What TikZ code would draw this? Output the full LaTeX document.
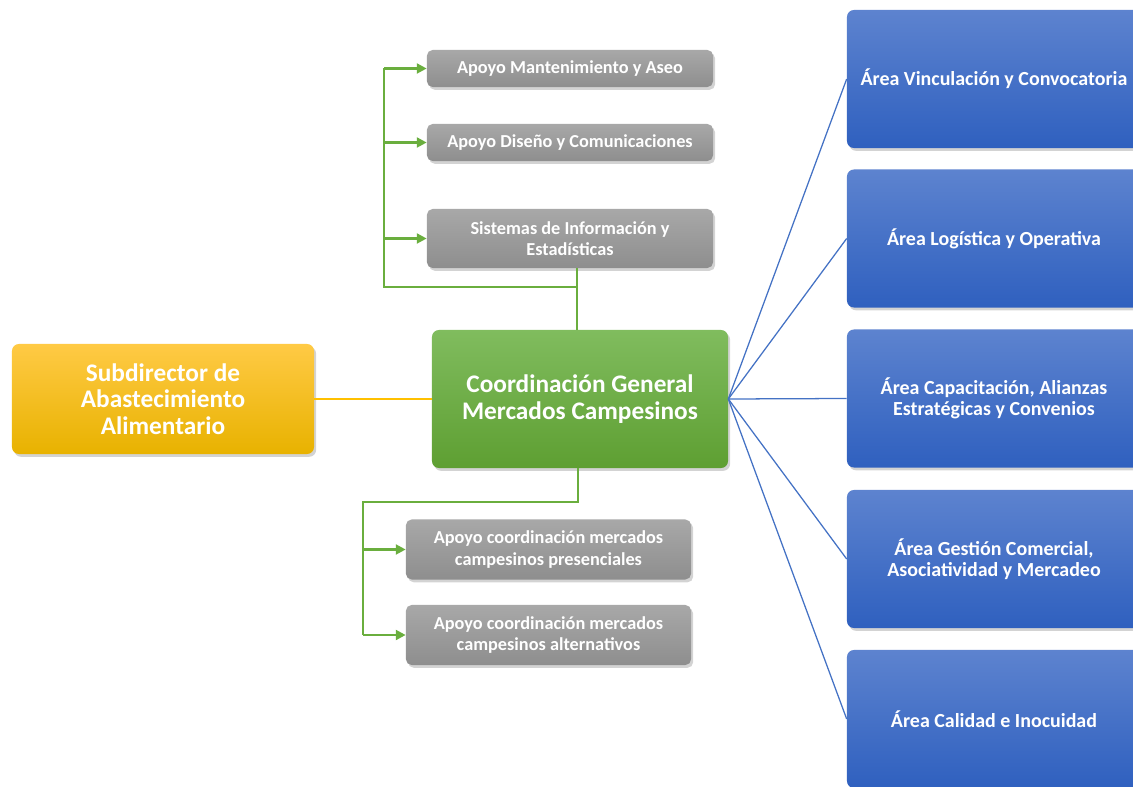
\documentclass[tikz,border=0pt]{standalone}
\usepackage{fontspec}
\setmainfont{Carlito}
\usepackage{tikz}
\usetikzlibrary{positioning,calc,shadows,arrows.meta}

\definecolor{goldtop}{HTML}{FFCA45}
\definecolor{goldmid}{HTML}{FFC000}
\definecolor{goldbot}{HTML}{E8B200}
\definecolor{leaftop}{HTML}{80BC5E}
\definecolor{leafbot}{HTML}{5E9F32}
\definecolor{greytop}{HTML}{A8A8A8}
\definecolor{greybot}{HTML}{8E8E8E}
\definecolor{areatop}{HTML}{5D83CF}
\definecolor{areabot}{HTML}{2F60BF}
\definecolor{lineleaf}{HTML}{6AAE3E}
\definecolor{lineblue}{HTML}{4472C4}

\begin{document}
\begin{tikzpicture}[x=0.025cm, y=-0.025cm,
    box/.style={rounded corners=5pt, text=white, align=center, inner sep=0pt,
        font=\bfseries, drop shadow={opacity=0.35, shadow xshift=1.5pt, shadow yshift=-2pt}},
    boss/.style={box, top color=goldtop, middle color=goldmid, bottom color=goldbot,
        minimum width=7.55cm, minimum height=2.75cm, font=\bfseries\fontsize{18}{18.8}\selectfont},
    coord/.style={box, top color=leaftop, bottom color=leafbot,
        minimum width=7.4cm, minimum height=3.45cm, font=\bfseries\fontsize{18}{19.2}\selectfont},
    support/.style={box, rounded corners=4pt, top color=greytop, bottom color=greybot,
        minimum width=7.15cm, font=\bfseries\fontsize{13}{15}\selectfont},
    area/.style={box, top color=areatop, bottom color=areabot,
        minimum width=7.35cm, minimum height=3.45cm, font=\bfseries\fontsize{14.2}{15}\selectfont},
    gline/.style={draw=lineleaf, line width=1.7pt},
    garrow/.style={gline, -{Triangle[length=7pt, width=7pt]}},
    bline/.style={draw=lineblue, line width=0.9pt}
]
    \clip (0,0) rectangle (1133,787);

    \node [boss] (sub) at (163,399) {Subdirector de\\Abastecimiento\\Alimentario};
    \node [coord] (coordgen) at (580,399) {Coordinación General\\Mercados Campesinos};

    % apoyos arriba
    \node [support, minimum height=0.925cm] (mant) at (570,68.5) {Apoyo Mantenimiento y Aseo};
    \node [support, minimum height=0.925cm] (dis) at (570,142.5) {Apoyo Diseño y Comunicaciones};
    \node [support, minimum height=1.475cm] (info) at (570,238.5) {Sistemas de Información y\\Estadísticas};

    % apoyos abajo
    \node [support, minimum width=7.125cm, minimum height=1.5cm] (pres) at (548.5,549.5) {Apoyo coordinación mercados\\campesinos presenciales};
    \node [support, minimum width=7.125cm, minimum height=1.5cm] (alt) at (548.5,635) {Apoyo coordinación mercados\\campesinos alternativos};

    % areas
    \node [area] (vinc) at (994,79) {Área Vinculación y Convocatoria};
    \node [area] (logi) at (994,238.5) {Área Logística y Operativa};
    \node [area] (capa) at (994,398.5) {Área Capacitación, Alianzas\\Estratégicas y Convenios};
    \node [area] (gest) at (994,559) {Área Gestión Comercial,\\Asociatividad y Mercadeo};
    \node [area] (cali) at (994,719) {Área Calidad e Inocuidad};

    \draw [draw=goldmid, line width=1pt] (sub) -- (coordgen);

    \coordinate (tjoin) at (577,287);
    \coordinate (tcorner) at (384,287);
    \draw [gline] (coordgen.north -| tjoin) -- (info.south -| tjoin);
    \draw [gline] (tjoin) -- (tcorner) -- (tcorner |- mant.west);
    \foreach \n in {mant,dis,info}
        \draw [garrow] (tcorner |- \n.west) -- (\n.west);

    \coordinate (bjoin) at (578,502);
    \coordinate (bcorner) at (363,502);
    \draw [gline] (coordgen.south -| bjoin) -- (bjoin) -- (bcorner) -- (bcorner |- alt.west);
    \foreach \n in {pres,alt}
        \draw [garrow] (bcorner |- \n.west) -- (\n.west);

    \foreach \n in {vinc,logi,capa,gest,cali}
        \draw [bline] (coordgen.east) -- (\n.west);
\end{tikzpicture}
\end{document}
